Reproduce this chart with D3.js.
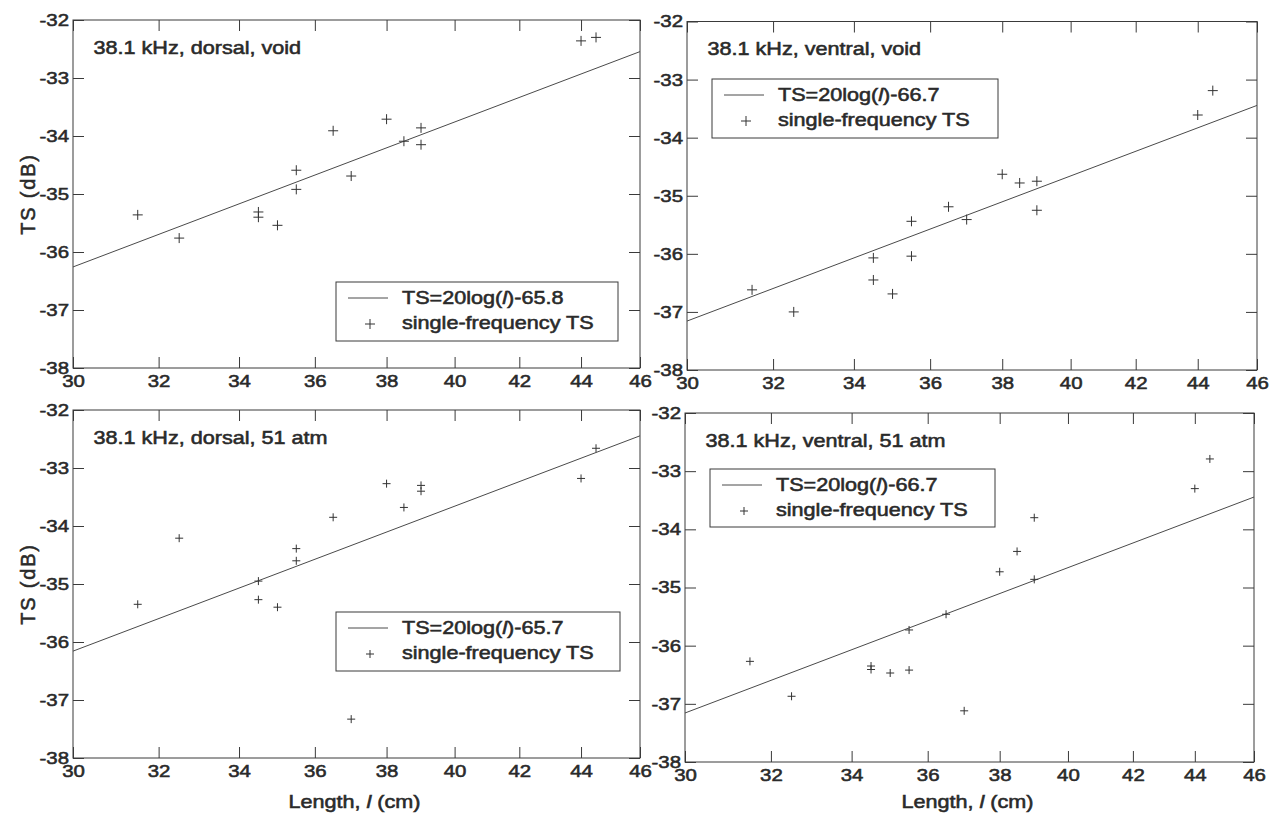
<!DOCTYPE html>
<html>
<head>
<meta charset="utf-8">
<script src="https://cdn.jsdelivr.net/npm/d3@7"></script>
<style>
  html, body { margin: 0; padding: 0; background: #fff; }
  svg { display: block; }
  text { font-family: "Liberation Sans", Arial, Helvetica, sans-serif; fill: #2a2a2a; stroke: #2a2a2a; stroke-width: 0.55px; }
</style>
</head>
<body>
<svg id="chart" width="1282" height="817"></svg>
<script>
// Fish length (cm) for each measured specimen
const lengths = [31.5, 32.5, 34.5, 34.5, 35, 35.5, 35.5, 36.5, 37, 38, 38.5, 39, 39, 44, 44.5];

// Single-frequency target strength (dB) at 38.1 kHz
const tsDorsalVoid   = [-35.36, -35.76, -35.31, -35.40, -35.54, -34.59, -34.92, -33.91, -34.69, -33.71, -34.09, -33.86, -34.15, -32.36, -32.30];
const tsVentralVoid  = [-36.62, -37.00, -36.07, -36.45, -36.69, -35.44, -36.04, -35.19, -35.41, -34.63, -34.78, -34.75, -35.25, -33.61, -33.19];
const tsDorsal51     = [-35.35, -34.21, -34.95, -35.27, -35.40, -34.39, -34.60, -33.85, -37.33, -33.27, -33.68, -33.30, -33.40, -33.18, -32.66];
const tsVentral51    = [-36.27, -36.87, -36.35, -36.41, -36.47, -35.73, -36.42, -35.46, -37.12, -34.73, -34.38, -33.80, -34.86, -33.30, -32.79];

// Fitted intercepts b in TS = 20 log(l) + b
const fitIntercepts = [-65.8, -66.7, -65.7, -66.7];

const panelTitles = [
  "38.1 kHz, dorsal, void",
  "38.1 kHz, ventral, void",
  "38.1 kHz, dorsal, 51 atm",
  "38.1 kHz, ventral, 51 atm"
];
const seriesList = [tsDorsalVoid, tsVentralVoid, tsDorsal51, tsVentral51];

const xTicks = [30, 32, 34, 36, 38, 40, 42, 44, 46];
const yTicks = [-38, -37, -36, -35, -34, -33, -32];
const xDomain = [30, 46];
const yDomain = [-38, -32];

// Panel frames and legend boxes (pixels)
const frames = [
  { left: 73,  right: 640,  top: 20,   bottom: 368, legend: { x: 336, y: 282, w: 282, h: 59 }, mark: 5, yLabel: true,  xLabel: false },
  { left: 687, right: 1257, top: 21.5, bottom: 370, legend: { x: 712, y: 79,  w: 286, h: 59 }, mark: 5, yLabel: false, xLabel: false },
  { left: 73,  right: 640,  top: 410,  bottom: 758, legend: { x: 336, y: 612, w: 284, h: 59 }, mark: 4, yLabel: true,  xLabel: true },
  { left: 685, right: 1254, top: 413,  bottom: 762, legend: { x: 710, y: 469, w: 285, h: 58 }, mark: 4, yLabel: false, xLabel: true }
];

const SX = 1.2;          // horizontal glyph stretch
const INK = "#3a3a3a";
const TICK = 11;

const svg = d3.select("#chart");

function label(g, x, y, anchor, size) {
  return g.append("text")
    .attr("transform", `translate(${x},${y}) scale(${SX},1)`)
    .attr("text-anchor", anchor)
    .style("font-size", size + "px");
}

function plus(r) { return `M${-r},0H${r}M0,${-r}V${r}`; }

frames.forEach((f, i) => {
  const w = f.right - f.left, h = f.bottom - f.top;
  const g = svg.append("g").attr("transform", `translate(${f.left},${f.top})`);
  const x = d3.scaleLog().domain(xDomain).range([0, w]);
  const y = d3.scaleLinear().domain(yDomain).range([h, 0]);

  // axes with inward ticks on all four sides
  const bottom = g.append("g").attr("transform", `translate(0,${h})`)
    .call(d3.axisBottom(x).tickValues(xTicks).tickFormat(d3.format("d")).tickSizeInner(-TICK).tickSizeOuter(0).tickPadding(7));
  const left = g.append("g")
    .call(d3.axisLeft(y).tickValues(yTicks).tickFormat(d => String(d)).tickSizeInner(-TICK).tickSizeOuter(0).tickPadding(4));
  const top = g.append("g")
    .call(d3.axisTop(x).tickValues(xTicks).tickFormat("").tickSizeInner(-TICK).tickSizeOuter(0));
  const right = g.append("g").attr("transform", `translate(${w},0)`)
    .call(d3.axisRight(y).tickValues(yTicks).tickFormat("").tickSizeInner(-TICK).tickSizeOuter(0));

  [bottom, left, top, right].forEach(a => {
    a.select(".domain").remove();
    a.attr("font-size", null).attr("font-family", null);
    a.selectAll(".tick line").attr("stroke", INK).attr("stroke-width", 1);
  });
  bottom.selectAll(".tick text")
    .style("font-size", "17px").attr("fill", null)
    .attr("transform", `scale(${SX},1)`);
  left.selectAll(".tick text")
    .style("font-size", "17px").attr("fill", null)
    .attr("x", -4 / SX)
    .attr("transform", `scale(${SX},1)`);

  g.append("rect").attr("width", w).attr("height", h)
    .attr("fill", "none").attr("stroke", INK).attr("stroke-width", 1);

  // fitted line TS = 20 log10(l) + b
  const b = fitIntercepts[i];
  const fit = xDomain.map(l => [l, 20 * Math.log10(l) + b]);
  g.append("path")
    .datum(fit)
    .attr("d", d3.line().x(d => x(d[0])).y(d => y(d[1])))
    .attr("fill", "none").attr("stroke", "#4a4a4a").attr("stroke-width", 1);

  // measured points
  const pts = lengths.map((l, k) => ({ l, ts: seriesList[i][k] }));
  g.selectAll("path.pt").data(pts).enter().append("path")
    .attr("class", "pt")
    .attr("transform", d => `translate(${x(d.l)},${y(d.ts)})`)
    .attr("d", plus(f.mark))
    .attr("stroke", "#333").attr("stroke-width", 1).attr("fill", "none");

  // panel title
  label(g, 20.5, 33.5, "start", 18).text(panelTitles[i]);

  // legend
  const L = f.legend;
  const lg = svg.append("g").attr("transform", `translate(${L.x},${L.y})`);
  lg.append("rect").attr("width", L.w).attr("height", L.h)
    .attr("fill", "#fff").attr("stroke", INK).attr("stroke-width", 1);
  lg.append("line").attr("x1", 12).attr("x2", 52).attr("y1", 16).attr("y2", 16)
    .attr("stroke", "#4a4a4a").attr("stroke-width", 1);
  const t1 = label(lg, 66, 22, "start", 18);
  t1.append("tspan").text("TS=20log(");
  t1.append("tspan").style("font-style", "italic").text("l");
  t1.append("tspan").text(")" + (b < 0 ? "-" : "+") + Math.abs(b).toFixed(1));
  lg.append("path").attr("transform", "translate(34,42)").attr("d", plus(f.mark))
    .attr("stroke", "#333").attr("stroke-width", 1).attr("fill", "none");
  label(lg, 66, 47, "start", 18).text("single-frequency TS");

  // axis titles
  if (f.yLabel) {
    svg.append("text")
      .attr("transform", `translate(35,${f.top + h / 2}) rotate(-90)`)
      .attr("text-anchor", "middle")
      .style("font-size", "20px").style("letter-spacing", "1.8px")
      .text("TS (dB)");
  }
  if (f.xLabel) {
    const xl = label(svg, f.left + w / 2 - 2, 808, "middle", 18);
    xl.append("tspan").text("Length, ");
    xl.append("tspan").style("font-style", "italic").text("l");
    xl.append("tspan").text(" (cm)");
  }
});
</script>
</body>
</html>
